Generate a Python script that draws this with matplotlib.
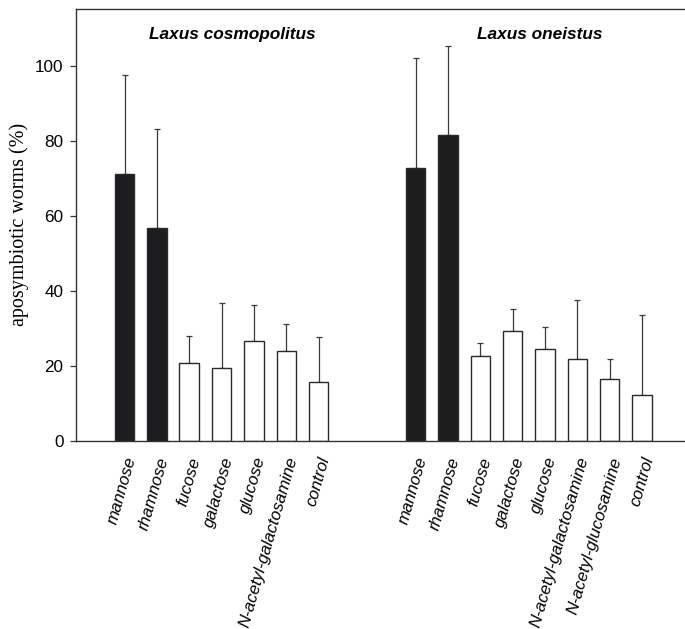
import matplotlib
matplotlib.use("Agg")
import matplotlib.pyplot as plt
import matplotlib.transforms as mtransforms
import numpy as np

# ---- data ----
species = ["Laxus cosmopolitus", "Laxus oneistus"]
cat1 = ["mannose", "rhamnose", "fucose", "galactose", "glucose",
        "N-acetyl-galactosamine", "control"]
val1 = [71.1, 56.8, 20.7, 19.4, 26.7, 23.9, 15.6]
err1 = [26.4, 26.3, 7.3, 17.3, 9.4, 7.2, 12.2]
cat2 = ["mannose", "rhamnose", "fucose", "galactose", "glucose",
        "N-acetyl-galactosamine", "N-acetyl-glucosamine", "control"]
val2 = [72.7, 81.7, 22.5, 29.2, 24.4, 21.8, 16.4, 12.2]
err2 = [29.5, 23.7, 3.7, 5.9, 6.0, 15.8, 5.3, 21.3]
active = ["mannose", "rhamnose"]
yticks = [0, 20, 40, 60, 80, 100]
ylabel = "aposymbiotic worms (%)"

fig = plt.figure(figsize=(6.85, 6.29), dpi=100)
ax = fig.add_axes([76/685, (629-440.7)/629, (685-76)/685, (440.7-9)/629])

gap = 3
x1 = np.arange(len(cat1))
x2 = np.arange(len(cat2)) + len(cat1) - 1 + gap
dark = "#1d1d1f"
edge = "#2a2a2a"

for xs, vals, errs, cats in [(x1, val1, err1, cat1), (x2, val2, err2, cat2)]:
    colors = [dark if c in active else "white" for c in cats]
    ax.bar(xs, vals, width=0.6, color=colors, edgecolor=edge, linewidth=1.0, zorder=2)
    ax.errorbar(xs, vals, yerr=[np.zeros(len(vals)), errs], fmt="none",
                ecolor="#3a3a3a", elinewidth=0.9, capsize=2.4, capthick=0.9, zorder=1)

ax.set_ylim(0, 115.2)
ax.set_xlim(-1.5, 17.33)
ax.set_yticks(yticks)
ax.set_yticklabels([str(t) for t in yticks], fontsize=12.3, family="Liberation Sans")
ax.tick_params(axis="y", length=4, width=0.9, color="#333", pad=5)

allx = list(x1) + list(x2)
alll = cat1 + cat2
ax.set_xticks(allx)
ax.set_xticklabels(alll, rotation=74, ha="right", va="center",
                   rotation_mode="anchor", fontsize=12.2, style="italic",
                   family="Liberation Sans")
ax.tick_params(axis="x", length=0, pad=12)
off = mtransforms.ScaledTranslation(7/100, 0, fig.dpi_scale_trans)
for lab in ax.get_xticklabels():
    lab.set_transform(lab.get_transform() + off)

for s in ["left", "top", "bottom"]:
    ax.spines[s].set_color("#333")
    ax.spines[s].set_linewidth(1.0)
ax.spines["right"].set_visible(False)

ax.set_ylabel(ylabel, fontsize=14.5, family="Liberation Serif", labelpad=4)

ax.text(x1.mean() + 0.33, 108.3, species[0], ha="center", va="center",
        fontsize=12.4, fontweight="bold", style="italic", family="Liberation Sans")
ax.text(x2.mean() + 0.33, 108.3, species[1], ha="center", va="center",
        fontsize=12.4, fontweight="bold", style="italic", family="Liberation Sans")

fig.savefig("out.png", dpi=100)
